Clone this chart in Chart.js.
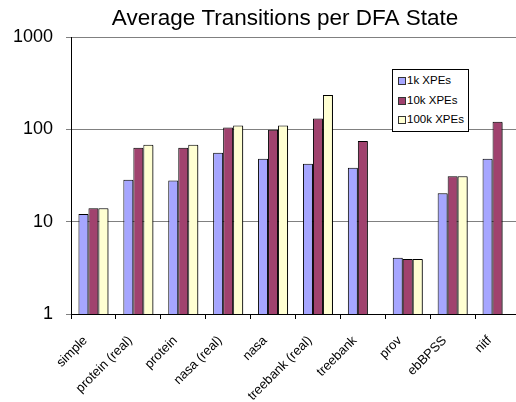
<!DOCTYPE html>
<html>
<head>
<meta charset="utf-8">
<script src="https://cdn.jsdelivr.net/npm/chart.js@4.4.1/dist/chart.umd.min.js"></script>
<style>
    html, body { margin: 0; padding: 0; background: #fff; overflow: hidden; }
    #wrap { position: relative; width: 570px; height: 402px; }
    #legend {
        position: absolute; left: 392px; top: 69px; width: 75px; height: 60px;
        border: 1px solid #000; background: #fff; padding-top: 1px;
        font-family: 'Liberation Sans', Arial, sans-serif; font-size: 11.5px; color: #000;
    }
    #legend .item { height: 19.5px; line-height: 19.5px; white-space: nowrap; position: relative; }
    #legend .sw {
        position: absolute; left: 5px; top: 6px; width: 6px; height: 6px;
        border: 1px solid #333;
    }
    #legend .txt { position: absolute; left: 14px; top: 0; }
</style>
</head>
<body>
<div id="wrap">
    <canvas id="chart" width="570" height="402"></canvas>
    <div id="legend"></div>
</div>
<script>
const categories = ['simple', 'protein (real)', 'protein', 'nasa (real)', 'nasa',
    'treebank (real)', 'treebank', 'prov', 'ebBPSS', 'nitf'];
const seriesNames = ['1k XPEs', '10k XPEs', '100k XPEs'];
const xpe1k = [12.1, 28.4, 27.9, 55.8, 48, 42.4, 38.4, 4.06, 20.3, 48];
const xpe10k = [14, 63, 63, 105, 99, 131, 74.6, 3.93, 31, 121];
const xpe100k = [14, 68, 68, 110, 110, 236, null, 3.93, 31, null];
const yTicks = [1, 10, 100, 1000];

const colors = ['#A6A6FF', '#A0426E', '#FFFFD2'];
const fontFamily = "'Liberation Sans', Arial, sans-serif";

// grey drop shadow to the right of bars, like the old office charts
const barShadow = {
    id: 'barShadow',
    beforeDatasetsDraw(chart) {
        const ctx = chart.ctx;
        ctx.save();
        ctx.shadowColor = 'rgba(0, 0, 0, 0.45)';
        ctx.shadowOffsetX = 2;
        ctx.shadowOffsetY = 1;
        ctx.shadowBlur = 0;
    },
    afterDatasetsDraw(chart) {
        chart.ctx.restore();
    }
};

const allValues = [xpe1k, xpe10k, xpe100k];

const chart = new Chart(document.getElementById('chart').getContext('2d'), {
    type: 'bar',
    data: {
        labels: categories,
        datasets: seriesNames.map(function (name, i) {
            return {
                label: name,
                data: allValues[i],
                backgroundColor: colors[i],
                borderColor: '#000',
                borderWidth: 1,
                borderSkipped: 'bottom',
                barPercentage: 1,
                categoryPercentage: 0.668
            };
        })
    },
    options: {
        responsive: false,
        animation: false,
        layout: { padding: 0 },
        plugins: {
            legend: { display: false },
            tooltip: { enabled: false },
            title: {
                display: true,
                text: 'Average Transitions per DFA State',
                color: '#000',
                font: { family: fontFamily, size: 22.5, weight: 'normal', lineHeight: 1.2 },
                padding: { top: 5, bottom: 5 }
            }
        },
        scales: {
            x: {
                offset: true,
                grid: { display: true, drawOnChartArea: false, drawTicks: true, tickLength: 5, color: '#000', offset: true },
                border: { display: true, color: '#000', width: 1 },
                ticks: {
                    color: '#000',
                    font: { family: fontFamily, size: 13 },
                    minRotation: 45,
                    maxRotation: 45,
                    autoSkip: false,
                    padding: 14,
                    labelOffset: -8
                },
                afterFit: function (scale) { scale.height = 88; }
            },
            y: {
                type: 'logarithmic',
                min: 1,
                max: 1000,
                grid: { color: '#808080', tickLength: 5, lineWidth: 1 },
                border: { display: true, color: '#000', width: 1 },
                ticks: {
                    color: '#000',
                    font: { family: fontFamily, size: 18 },
                    padding: 13,
                    autoSkip: false,
                    callback: function (v) { return String(v); }
                },
                afterBuildTicks: function (scale) {
                    scale.ticks = yTicks.map(function (v) { return { value: v }; });
                },
                afterFit: function (scale) { scale.width = 71; }
            },
            // empty spacer on the right so the plot runs to x=520 while the title stays centred on the full width
            spacer: {
                type: 'linear',
                position: 'right',
                display: true,
                grid: { display: false },
                border: { display: false },
                ticks: { display: false },
                afterFit: function (scale) { scale.width = 50; }
            }
        }
    },
    plugins: [barShadow]
});

// legend box sits inside the plot, built from the datasets
const legendEl = document.getElementById('legend');
chart.data.datasets.forEach(function (ds) {
    const item = document.createElement('div');
    item.className = 'item';
    item.innerHTML = '<span class="sw" style="background:' + ds.backgroundColor + '"></span>' +
        '<span class="txt">' + ds.label + '</span>';
    legendEl.appendChild(item);
});
</script>
</body>
</html>
